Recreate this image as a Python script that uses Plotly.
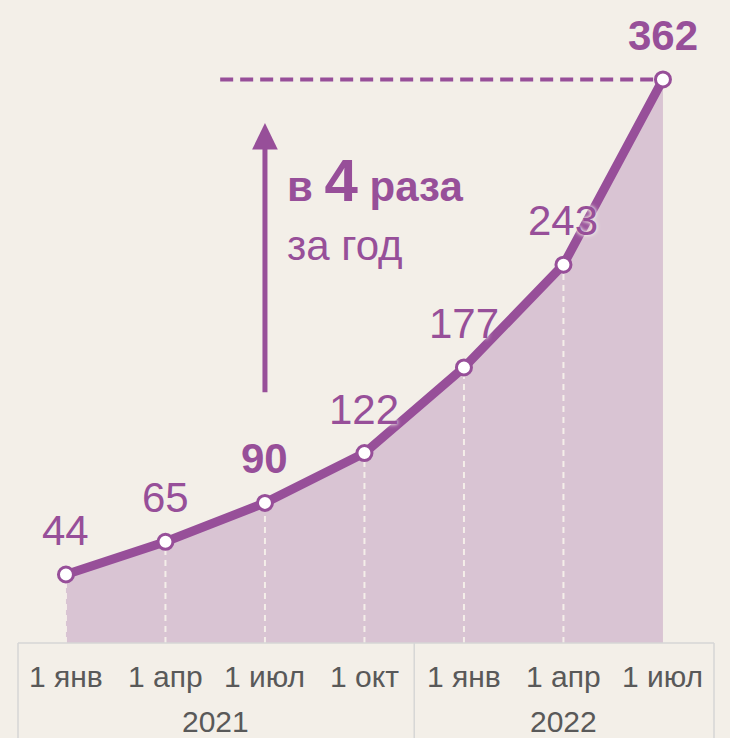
import plotly.graph_objects as go

# ---- data ----
tick_labels = ["1 янв", "1 апр", "1 июл", "1 окт", "1 янв", "1 апр", "1 июл"]
years = ["2021", "2022"]
year_centers = [1.5, 5.0]
year_divider = 3.5
values = [44, 65, 90, 122, 177, 243, 362]
bold_idx = [2, 6]
x = list(range(len(values)))

PURPLE = "#974F99"
FILL = "#D9C4D3"
BG = "#F3EFE8"
GRID = "#F4EEE9"
BOX = "#D6D6D6"
TXT = "#595959"
FONT = "Liberation Sans, Arial, sans-serif"
HALO = "0px 0px 3px %s, 0px 0px 5px %s" % (BG, BG)

fig = go.Figure()

# area fill
fig.add_trace(go.Scatter(x=x, y=values, mode="lines", line=dict(width=0, color=FILL),
                         fill="tozeroy", fillcolor=FILL, hoverinfo="skip", showlegend=False))

# vertical dashed drop lines
vx, vy = [], []
for xi, v in zip(x[:-1], values[:-1]):
    vx += [xi, xi, None]
    vy += [0, v, None]
fig.add_trace(go.Scatter(x=vx, y=vy, mode="lines",
                         line=dict(color=GRID, width=2, dash="6px,5px"),
                         hoverinfo="skip", showlegend=False))

# main line with markers
fig.add_trace(go.Scatter(x=x, y=values, mode="lines+markers",
                         line=dict(color=PURPLE, width=9),
                         marker=dict(size=15, color="white", line=dict(color=PURPLE, width=3)),
                         showlegend=False))

annotations = []
# data labels
for i, (xi, v) in enumerate(zip(x, values)):
    t = f"<b>{v}</b>" if i in bold_idx else str(v)
    annotations.append(dict(x=xi, y=v, xref="x", yref="y", text=t, showarrow=False,
                            yanchor="middle", xanchor="center", yshift=44,
                            font=dict(family=FONT, size=42, color=PURPLE, shadow=HALO)))
# tick labels
for xi, t in zip(x, tick_labels):
    annotations.append(dict(x=xi, y=0, xref="x", yref="paper", text=t, showarrow=False,
                            yanchor="middle", xanchor="center", yshift=-33,
                            font=dict(family=FONT, size=30, color=TXT)))
# year labels
for xc, t in zip(year_centers, years):
    annotations.append(dict(x=xc, y=0, xref="x", yref="paper", text=t, showarrow=False,
                            yanchor="middle", xanchor="center", yshift=-78,
                            font=dict(family=FONT, size=30, color=TXT)))
# growth note
annotations.append(dict(x=2.2, y=297, xref="x", yref="y",
                        text="<b>в <span style='font-size:60px'>4</span> раза</b>",
                        showarrow=False, xanchor="left", yanchor="middle",
                        font=dict(family=FONT, size=42, color=PURPLE)))
annotations.append(dict(x=2.2, y=255, xref="x", yref="y", text="за год",
                        showarrow=False, xanchor="left", yanchor="middle",
                        font=dict(family=FONT, size=42, color=PURPLE)))

shapes = []
# box under axis
shapes.append(dict(type="line", xref="paper", yref="paper", x0=0, x1=1, y0=0, y1=0,
                   line=dict(color=BOX, width=1.5)))
for px in [0, 1]:
    shapes.append(dict(type="line", xref="paper", yref="paper", x0=px, x1=px, y0=0, y1=-0.2,
                       line=dict(color=BOX, width=1.5)))
shapes.append(dict(type="line", xref="x", yref="paper", x0=year_divider, x1=year_divider,
                   y0=0, y1=-0.2, line=dict(color=BOX, width=1.5)))
# dashed max level line
shapes.append(dict(type="line", xref="x", yref="y", x0=1.55, x1=x[-1], y0=values[-1], y1=values[-1],
                   line=dict(color=PURPLE, width=4, dash="13px,7px"), layer="below"))
# arrow
shapes.append(dict(type="line", xref="x", yref="y", x0=2, x1=2, y0=161, y1=318,
                   line=dict(color=PURPLE, width=5)))
shapes.append(dict(type="path", xref="x", yref="y",
                   path="M 1.871,317 L 2.129,317 L 2,334 Z",
                   fillcolor=PURPLE, line=dict(width=0)))

fig.update_layout(
    width=730, height=738,
    margin=dict(l=18, r=16, t=0, b=95),
    paper_bgcolor=BG, plot_bgcolor=BG,
    xaxis=dict(range=[-0.482, 6.513], showgrid=False, zeroline=False, showticklabels=False,
               fixedrange=True),
    yaxis=dict(range=[0, 413], showgrid=False, zeroline=False, showticklabels=False,
               fixedrange=True),
    annotations=annotations, shapes=shapes,
    font=dict(family=FONT),
    hovermode=False,
)

fig.write_html("out.html", config={"displayModeBar": False},
               post_script="document.body.style.margin='0';document.body.style.background='%s';" % BG)
